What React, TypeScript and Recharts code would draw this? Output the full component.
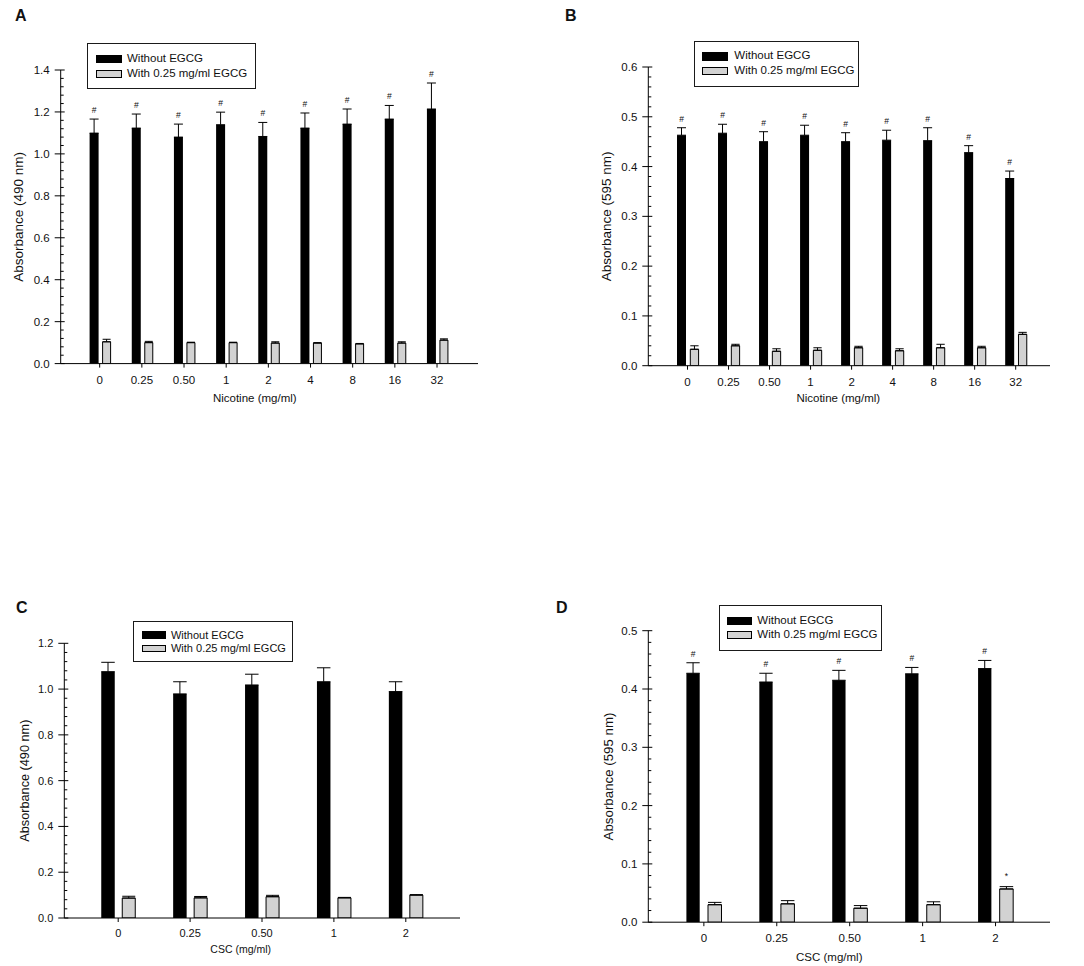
import React from "react";
import { BarChart, Bar, XAxis, YAxis, ErrorBar, LabelList, Legend, Label } from "recharts";

const FONT = '"Liberation Sans", Arial, Helvetica, sans-serif';
const INK = "#111111";
const BLACK_FILL = "#000000";
const GRAY_FILL = "#d2d2d2";

const SERIES_NAMES = ["Without EGCG", "With 0.25 mg/ml EGCG"];

// ---------- Panel A : Nicotine, 490 nm ----------
const nicotineDoses = ["0", "0.25", "0.50", "1", "2", "4", "8", "16", "32"];
const aWithout = [1.099, 1.123, 1.08, 1.139, 1.083, 1.123, 1.142, 1.166, 1.214];
const aWithoutErr = [0.067, 0.067, 0.062, 0.06, 0.067, 0.072, 0.072, 0.065, 0.124];
const aWith = [0.104, 0.1, 0.1, 0.1, 0.098, 0.098, 0.094, 0.098, 0.112];
const aWithErr = [0.012, 0.006, 0.002, 0.002, 0.006, 0.002, 0.002, 0.006, 0.006];
const aMarkWithout = ["#", "#", "#", "#", "#", "#", "#", "#", "#"];
const aMarkWith = ["", "", "", "", "", "", "", "", ""];
const aYTicks = [0, 0.2, 0.4, 0.6, 0.8, 1.0, 1.2, 1.4];

// ---------- Panel B : Nicotine, 595 nm ----------
const bWithout = [0.463, 0.467, 0.45, 0.463, 0.45, 0.453, 0.452, 0.428, 0.376];
const bWithoutErr = [0.015, 0.018, 0.02, 0.02, 0.018, 0.02, 0.026, 0.014, 0.015];
const bWith = [0.033, 0.04, 0.029, 0.031, 0.036, 0.03, 0.036, 0.036, 0.063];
const bWithErr = [0.007, 0.003, 0.005, 0.005, 0.003, 0.004, 0.007, 0.003, 0.004];
const bMarkWithout = ["#", "#", "#", "#", "#", "#", "#", "#", "#"];
const bMarkWith = ["", "", "", "", "", "", "", "", ""];
const bYTicks = [0, 0.1, 0.2, 0.3, 0.4, 0.5, 0.6];

// ---------- Panel C : CSC, 490 nm ----------
const cscDoses = ["0", "0.25", "0.50", "1", "2"];
const cWithout = [1.076, 0.979, 1.018, 1.032, 0.989];
const cWithoutErr = [0.041, 0.053, 0.047, 0.061, 0.043];
const cWith = [0.087, 0.088, 0.093, 0.088, 0.1];
const cWithErr = [0.008, 0.006, 0.006, 0.002, 0.002];
const cMarkWithout = ["", "", "", "", ""];
const cMarkWith = ["", "", "", "", ""];
const cYTicks = [0, 0.2, 0.4, 0.6, 0.8, 1.0, 1.2];

// ---------- Panel D : CSC, 595 nm ----------
const dWithout = [0.427, 0.412, 0.415, 0.426, 0.435];
const dWithoutErr = [0.018, 0.015, 0.017, 0.011, 0.014];
const dWith = [0.03, 0.0315, 0.024, 0.03, 0.057];
const dWithErr = [0.004, 0.0055, 0.0045, 0.005, 0.004];
const dMarkWithout = ["#", "#", "#", "#", "#"];
const dMarkWith = ["", "", "", "", "*"];
const dYTicks = [0, 0.1, 0.2, 0.3, 0.4, 0.5];

type Row = {
  cat: string;
  without: number;
  withoutErr: number[];
  with: number;
  withErr: number[];
  markWithout: string;
  markWith: string;
  eW: number;
  eG: number;
};

function buildRows(
  cats: string[],
  w: number[],
  we: number[],
  g: number[],
  ge: number[],
  mw: string[],
  mg: string[]
): Row[] {
  return cats.map((c, i) => ({
    cat: c,
    without: w[i],
    withoutErr: [0, we[i]],
    with: g[i],
    withErr: [0, ge[i]],
    markWithout: mw[i],
    markWith: mg[i],
    eW: we[i],
    eG: ge[i],
  }));
}

function withMinor(major: number[], minorPer: number): number[] {
  const out: number[] = [];
  for (let i = 0; i < major.length - 1; i++) {
    const step = (major[i + 1] - major[i]) / (minorPer + 1);
    for (let j = 0; j <= minorPer; j++) out.push(+(major[i] + j * step).toFixed(6));
  }
  out.push(major[major.length - 1]);
  return out;
}

type LegendCfg = {
  x: number; y: number; w: number; h: number;
  swX: number; swW: number; swH: number; textX: number; row1: number; row2: number; fs: number;
};

type Cfg = {
  letter: string; letterX: number; letterTop: number;
  left: number; top: number; width: number; height: number;
  x0: number; x1: number; yTop: number; yBot: number;
  padL: number; padR: number;
  blackW: number; grayW: number; gap: number;
  yMax: number; yMajor: number[]; minorPer: number;
  yTitle: string; xTitle: string;
  yTitleOff: number; xTitleDx: number; xTitleBase: number;
  tickFs: number; titleFs: number; xTitleFs: number; tickMargin: number;
  legend: LegendCfg;
  rows: Row[];
};

const YAXIS_W = 50;
const XAXIS_H = 30;

function LegendBox({ L }: { L: LegendCfg }) {
  const rowsY = [L.row1, L.row2];
  return (
    <div
      style={{
        position: "relative",
        width: L.w,
        height: L.h,
        boxSizing: "border-box",
        border: "1px solid #1a1a1a",
        background: "#fff",
        fontFamily: FONT,
        fontSize: L.fs,
        color: INK,
      }}
    >
      {[0, 1].map((i) => (
        <React.Fragment key={i}>
          <div
            style={{
              position: "absolute",
              left: L.swX - 1,
              top: rowsY[i] - L.swH / 2 - 1,
              width: L.swW,
              height: L.swH,
              boxSizing: "border-box",
              background: i ? GRAY_FILL : BLACK_FILL,
              border: "1px solid #000",
            }}
          />
          <div
            style={{
              position: "absolute",
              left: L.textX - 1,
              top: rowsY[i] - 1,
              transform: "translateY(-50%)",
              lineHeight: 1,
              whiteSpace: "nowrap",
            }}
          >
            {SERIES_NAMES[i]}
          </div>
        </React.Fragment>
      ))}
    </div>
  );
}

function makeMark(rows: Row[], series: "without" | "with", lift: number) {
  return (props: any) => {
    const idx = props.index;
    const r = rows[idx];
    if (!r) return null;
    const mark = series === "without" ? r.markWithout : r.markWith;
    if (!mark) return null;
    const vb = props.viewBox || {};
    const x = vb.x ?? props.x;
    const y = vb.y ?? props.y;
    const w = vb.width ?? props.width;
    const h = vb.height ?? props.height;
    const v = series === "without" ? r.without : r.with;
    const e = series === "without" ? r.eW : r.eG;
    const topY = Math.min(y, y + h);
    const pxPer = Math.abs(h) / v;
    const errTop = topY - e * pxPer;
    return (
      <text
        x={x + w / 2}
        y={errTop - lift}
        textAnchor="middle"
        fontSize={8.5}
        fontFamily={FONT}
        fill={INK}
      >
        {mark}
      </text>
    );
  };
}

function Panel({ cfg }: { cfg: Cfg }) {
  const margin = {
    left: cfg.x0 - cfg.left - YAXIS_W,
    top: cfg.yTop - cfg.top,
    right: cfg.left + cfg.width - cfg.x1,
    bottom: cfg.top + cfg.height - cfg.yBot - XAXIS_H,
  };
  const allTicks = withMinor(cfg.yMajor, cfg.minorPer);
  const isMajor = (v: number) => cfg.yMajor.some((m) => Math.abs(m - v) < 1e-6);

  const yTick = (p: any) => {
    const { x, y, payload } = p;
    const v = payload.value;
    if (!isMajor(v)) {
      return <line x1={x} x2={x + 3} y1={y} y2={y} stroke="#000" strokeWidth={1} />;
    }
    return (
      <g>
        <line x1={x - 6} x2={x + 4} y1={y} y2={y} stroke="#000" strokeWidth={1} />
        <text
          x={x - 11}
          y={y}
          dy="0.35em"
          textAnchor="end"
          fontSize={cfg.tickFs}
          fontFamily={FONT}
          fill={INK}
        >
          {v.toFixed(1)}
        </text>
      </g>
    );
  };

  const yTitle = (p: any) => {
    const vb = p.viewBox || {};
    const cx = vb.x + vb.width - cfg.yTitleOff;
    const cy = vb.y + vb.height / 2;
    return (
      <text
        x={cx}
        y={cy}
        dy="0.35em"
        transform={`rotate(-90 ${cx} ${cy})`}
        textAnchor="middle"
        fontSize={cfg.titleFs}
        fontFamily={FONT}
        fill={INK}
      >
        {cfg.yTitle}
      </text>
    );
  };

  const xTitle = (p: any) => {
    const vb = p.viewBox || {};
    const cx = vb.x + vb.width / 2 + cfg.xTitleDx;
    const by = vb.y + cfg.xTitleBase;
    return (
      <text x={cx} y={by} textAnchor="middle" fontSize={cfg.xTitleFs} fontFamily={FONT} fill={INK}>
        {cfg.xTitle}
      </text>
    );
  };

  const L = cfg.legend;

  return (
    <div style={{ position: "absolute", left: cfg.left, top: cfg.top, width: cfg.width, height: cfg.height }}>
      <div
        style={{
          position: "absolute",
          left: cfg.letterX - cfg.left,
          top: cfg.letterTop - cfg.top,
          fontFamily: FONT,
          fontWeight: "bold",
          fontSize: 16,
          lineHeight: "16px",
          color: INK,
        }}
      >
        {cfg.letter}
      </div>
      <BarChart
        width={cfg.width}
        height={cfg.height}
        data={cfg.rows}
        margin={margin}
        barGap={cfg.gap}
      >
        <XAxis
          dataKey="cat"
          type="category"
          interval={0}
          height={XAXIS_H}
          padding={{ left: cfg.padL, right: cfg.padR }}
          axisLine={{ stroke: "#000", strokeWidth: 1 }}
          tickLine={{ stroke: "#000", strokeWidth: 1 }}
          tickSize={4}
          tickMargin={cfg.tickMargin}
          tick={{ fontSize: cfg.tickFs, fill: INK, fontFamily: FONT }}
        >
          <Label content={xTitle} />
        </XAxis>
        <YAxis
          type="number"
          domain={[0, cfg.yMax]}
          allowDataOverflow
          ticks={allTicks}
          interval={0}
          width={YAXIS_W}
          tickSize={0}
          tickMargin={0}
          tickLine={false}
          axisLine={{ stroke: "#000", strokeWidth: 1 }}
          tick={yTick}
        >
          <Label content={yTitle} />
        </YAxis>
        <Bar
          dataKey="without"
          name={SERIES_NAMES[0]}
          fill={BLACK_FILL}
          barSize={cfg.blackW}
          isAnimationActive={false}
        >
          <ErrorBar dataKey="withoutErr" width={cfg.blackW / 2} stroke="#000" strokeWidth={1} direction="y" />
          <LabelList dataKey="markWithout" content={makeMark(cfg.rows, "without", 6)} />
        </Bar>
        <Bar
          dataKey="with"
          name={SERIES_NAMES[1]}
          fill={GRAY_FILL}
          stroke="#000"
          strokeWidth={1}
          barSize={cfg.grayW}
          isAnimationActive={false}
        >
          <ErrorBar dataKey="withErr" width={cfg.grayW / 2} stroke="#000" strokeWidth={1} direction="y" />
          <LabelList dataKey="markWith" content={makeMark(cfg.rows, "with", 8)} />
        </Bar>
        <Legend
          layout="vertical"
          align="center"
          verticalAlign="middle"
          wrapperStyle={{ left: L.x - cfg.left, top: L.y - cfg.top, width: L.w, height: L.h }}
          content={() => <LegendBox L={L} />}
        />
      </BarChart>
    </div>
  );
}

const panelA: Cfg = {
  letter: "A", letterX: 15, letterTop: 8,
  left: 0, top: 0, width: 540, height: 420,
  x0: 60.7, x1: 478, yTop: 70, yBot: 363.6,
  padL: 17.9, padR: 19.9,
  blackW: 9, grayW: 8, gap: 4,
  yMax: 1.4, yMajor: aYTicks, minorPer: 4,
  yTitle: "Absorbance (490 nm)", xTitle: "Nicotine (mg/ml)",
  yTitleOff: 42.4, xTitleDx: -14.6, xTitleBase: 38.4,
  tickFs: 11.5, titleFs: 13.5, xTitleFs: 11.5, tickMargin: 8,
  legend: { x: 87, y: 43, w: 169, h: 46, swX: 9, swW: 26, swH: 8, textX: 40, row1: 16, row2: 31, fs: 11.5 },
  rows: buildRows(nicotineDoses, aWithout, aWithoutErr, aWith, aWithErr, aMarkWithout, aMarkWith),
};

const panelB: Cfg = {
  letter: "B", letterX: 565, letterTop: 8,
  left: 540, top: 0, width: 544, height: 420,
  x0: 648.3, x1: 1050, yTop: 67, yBot: 365.7,
  padL: 18.7, padR: 13.8,
  blackW: 9, grayW: 8.3, gap: 4.3,
  yMax: 0.6, yMajor: bYTicks, minorPer: 4,
  yTitle: "Absorbance (595 nm)", xTitle: "Nicotine (mg/ml)",
  yTitleOff: 41.6, xTitleDx: -10.9, xTitleBase: 36.3,
  tickFs: 11.5, titleFs: 13.5, xTitleFs: 11.5, tickMargin: 8,
  legend: { x: 694.3, y: 40.7, w: 165, h: 46.6, swX: 8, swW: 25.3, swH: 8.5, textX: 40, row1: 15.6, row2: 30.5, fs: 11.5 },
  rows: buildRows(nicotineDoses, bWithout, bWithoutErr, bWith, bWithErr, bMarkWithout, bMarkWith),
};

const panelC: Cfg = {
  letter: "C", letterX: 16, letterTop: 600,
  left: 0, top: 590, width: 540, height: 376,
  x0: 64.3, x1: 460, yTop: 643.3, yBot: 918,
  padL: 17.95, padR: 18.25,
  blackW: 13.5, grayW: 13, gap: 7.5,
  yMax: 1.2, yMajor: cYTicks, minorPer: 4,
  yTitle: "Absorbance (490 nm)", xTitle: "CSC (mg/ml)",
  yTitleOff: 40, xTitleDx: -21.5, xTitleBase: 35,
  tickFs: 11, titleFs: 12.7, xTitleFs: 10.5, tickMargin: 7,
  legend: { x: 132.7, y: 620.7, w: 160.6, h: 41.6, swX: 9, swW: 24, swH: 7.5, textX: 38.3, row1: 14.1, row2: 27.8, fs: 11 },
  rows: buildRows(cscDoses, cWithout, cWithoutErr, cWith, cWithErr, cMarkWithout, cMarkWith),
};

const panelD: Cfg = {
  letter: "D", letterX: 556, letterTop: 600,
  left: 540, top: 590, width: 544, height: 376,
  x0: 648.3, x1: 1050, yTop: 630.7, yBot: 922.2,
  padL: 19.1, padR: 18,
  blackW: 13.3, grayW: 13.5, gap: 8.3,
  yMax: 0.5, yMajor: dYTicks, minorPer: 4,
  yTitle: "Absorbance (595 nm)", xTitle: "CSC (mg/ml)",
  yTitleOff: 40, xTitleDx: -19.9, xTitleBase: 38.5,
  tickFs: 11.5, titleFs: 13.3, xTitleFs: 11.5, tickMargin: 8,
  legend: { x: 719, y: 605, w: 162.7, h: 46, swX: 7.7, swW: 25.7, swH: 8.3, textX: 38.3, row1: 15.8, row2: 30.3, fs: 11.5 },
  rows: buildRows(cscDoses, dWithout, dWithoutErr, dWith, dWithErr, dMarkWithout, dMarkWith),
};

export default function App() {
  return (
    <div style={{ position: "absolute", left: 0, top: 0, width: 1084, height: 966, background: "#fff", overflow: "hidden" }}>
      <Panel cfg={panelA} />
      <Panel cfg={panelB} />
      <Panel cfg={panelC} />
      <Panel cfg={panelD} />
    </div>
  );
}
